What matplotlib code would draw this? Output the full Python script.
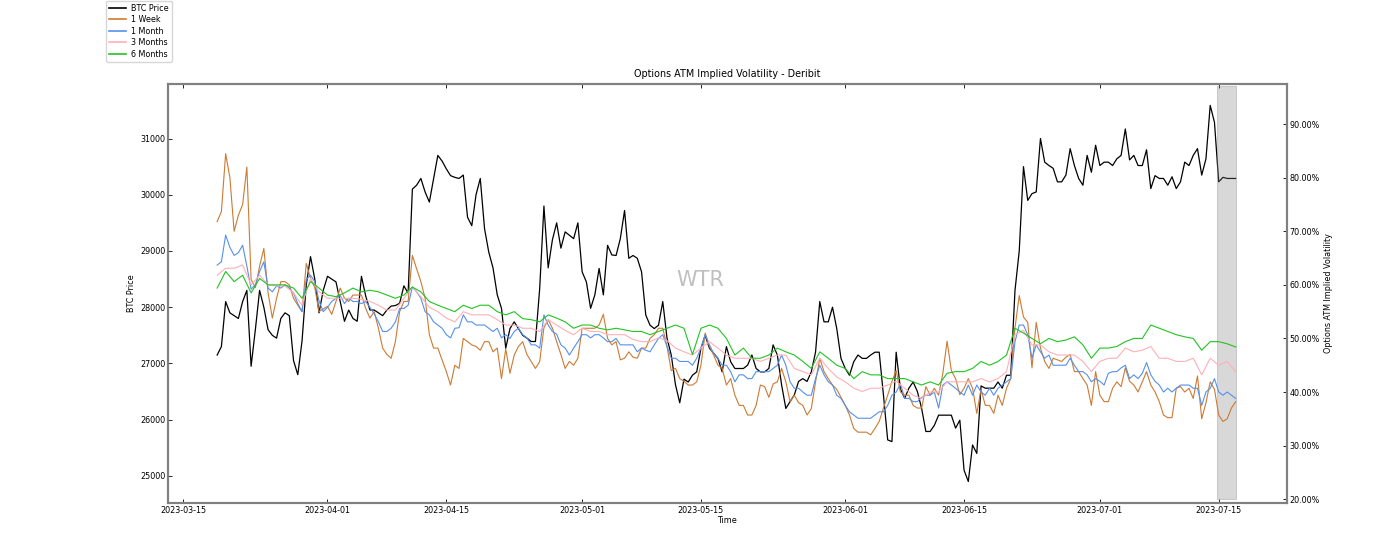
import numpy as np
import pandas as pd
import matplotlib
matplotlib.use('agg')
import matplotlib.pyplot as plt
import matplotlib.dates as mdates
import matplotlib.ticker as mtick

# half-day samples, 2023-03-19 00:00 -> 2023-07-17 00:00
btc_price = [
    27150, 27300, 28100, 27900, 27850, 27800, 28100, 28300, 26950, 27600,
    28300, 28000, 27600, 27500, 27450, 27800, 27900, 27850, 27050, 26800,
    27400, 28400, 28900, 28500, 27900, 28300, 28550, 28500, 28450, 28100,
    27750, 27950, 27800, 27750, 28550, 28200, 27950, 27950, 27900, 27850,
    27950, 28020, 28030, 28070, 28380, 28250, 30100, 30170, 30290, 30050,
    29870, 30290, 30700, 30600, 30460, 30340, 30310, 30290, 30350, 29600,
    29450, 30000, 30290, 29400, 28980, 28700, 28220, 27980, 27270, 27620,
    27740, 27620, 27500, 27450, 27390, 27390, 28330, 29800, 28700, 29200,
    29500, 29050, 29340, 29280, 29220, 29500, 28630, 28450, 27980, 28220,
    28690, 28220, 29100, 28930, 28920, 29220, 29720, 28870, 28920, 28870,
    28630, 27860, 27680, 27620, 27680, 28100, 27450, 27150, 26620, 26300,
    26720, 26670, 26790, 26850, 27270, 27500, 27270, 27180, 27090, 26850,
    27300, 27030, 26910, 26910, 26910, 26970, 27150, 26910, 26850, 26850,
    26910, 27330, 27150, 26620, 26200, 26320, 26440, 26680, 26730, 26680,
    26850, 27200, 28100, 27740, 27740, 28000, 27620, 27090, 26910, 26790,
    27030, 27150, 27090, 27090, 27150, 27200, 27200, 26440, 25640, 25610,
    27200, 26550, 26380, 26560, 26670, 26500, 26200, 25790, 25790, 25900,
    26080, 26080, 26080, 26080, 25850, 25990, 25100, 24900, 25550, 25400,
    26600, 26560, 26560, 26560, 26670, 26560, 26790, 26790, 28300, 29000,
    30500, 29900, 30020, 30050, 31000, 30580, 30520, 30470, 30230, 30230,
    30350, 30820, 30520, 30290, 30170, 30700, 30400, 30880, 30520, 30580,
    30580, 30520, 30640, 30700, 31170, 30620, 30700, 30520, 30520, 30800,
    30110, 30340, 30290, 30290, 30170, 30320, 30110, 30230, 30580, 30520,
    30700, 30820, 30350, 30640, 31590, 31290, 30230, 30310, 30290, 30290,
    30290]

iv_1w = [
    71.8, 73.7, 84.5, 80.0, 70.0, 73.0, 75.0, 82.0, 61.0, 59.5,
    63.5, 66.8, 58.5, 53.8, 57.5, 60.6, 60.6, 60.0, 57.5, 56.2,
    55.0, 64.0, 61.2, 59.5, 55.0, 55.5, 56.0, 54.5, 56.9, 59.4,
    57.5, 56.9, 58.1, 58.1, 58.1, 55.6, 53.8, 55.0, 51.9, 48.2,
    47.0, 46.3, 49.4, 55.0, 56.9, 56.9, 65.5, 63.0, 60.6, 57.5,
    50.7, 48.2, 48.2, 46.0, 43.8, 41.3, 45.0, 44.4, 50.0, 49.4,
    48.8, 48.5, 47.8, 49.4, 49.4, 47.5, 48.2, 42.5, 48.0, 43.5,
    46.9, 48.5, 49.4, 47.0, 45.7, 44.4, 45.7, 52.0, 53.5, 51.9,
    49.4, 47.0, 44.4, 45.7, 45.0, 46.3, 51.9, 51.9, 51.9, 51.9,
    52.5, 54.5, 50.0, 48.8, 49.4, 46.0, 46.3, 47.5, 46.5, 46.3,
    48.2, 48.2, 50.0, 50.7, 51.9, 51.9, 48.5, 44.0, 44.4, 42.5,
    42.0, 41.3, 41.3, 41.9, 45.0, 51.0, 48.5, 46.9, 45.0, 44.4,
    41.3, 42.5, 39.4, 37.5, 37.5, 35.7, 35.7, 37.5, 41.3, 41.0,
    39.0, 41.5, 41.9, 44.4, 41.9, 38.2, 39.4, 38.0, 37.5, 35.7,
    36.9, 41.9, 46.3, 43.8, 42.5, 41.3, 40.5, 39.0, 37.5, 35.7,
    33.2, 32.5, 32.5, 32.5, 32.0, 33.2, 34.5, 37.0, 39.4, 42.0,
    44.0, 40.0, 39.4, 39.4, 37.5, 37.0, 37.0, 41.0, 39.4, 40.7,
    39.4, 43.5, 49.5, 44.0, 42.5, 39.5, 40.7, 42.5, 40.7, 36.0,
    40.5, 37.5, 37.5, 36.0, 39.4, 37.5, 40.7, 42.5, 52.0, 58.0,
    54.0, 53.0, 44.5, 53.0, 48.2, 45.7, 44.4, 46.3, 46.0, 45.7,
    46.5, 47.0, 43.8, 43.8, 42.5, 41.3, 37.5, 43.8, 39.4, 38.2,
    38.2, 40.7, 41.9, 41.0, 44.5, 42.0, 41.3, 40.0, 41.9, 43.8,
    41.3, 40.0, 38.2, 35.7, 35.2, 35.2, 40.7, 41.0, 40.0, 40.7,
    38.8, 43.0, 35.0, 38.0, 41.9, 40.5, 35.7, 34.5, 35.0, 37.0,
    38.2]

iv_1m = [
    63.7, 64.3, 69.3, 67.0, 65.5, 66.0, 67.4, 63.5, 59.2, 60.0,
    62.5, 64.3, 59.4, 58.7, 59.8, 59.4, 60.0, 59.4, 58.5, 56.5,
    55.0, 61.0, 61.8, 60.6, 57.0, 55.0, 55.8, 56.9, 57.5, 58.0,
    56.5, 57.5, 56.9, 56.9, 56.5, 56.9, 55.8, 54.6, 53.1, 51.3,
    51.3, 51.9, 53.1, 55.6, 55.6, 56.2, 59.6, 58.7, 57.5, 55.0,
    54.4, 53.1, 52.5, 51.9, 50.7, 50.1, 51.9, 52.0, 54.4, 53.1,
    53.1, 52.5, 52.5, 52.5, 51.9, 51.3, 51.9, 50.1, 50.7, 50.0,
    51.3, 51.9, 50.7, 50.1, 48.8, 48.8, 48.2, 54.4, 52.5, 51.3,
    50.8, 48.8, 48.2, 46.9, 48.2, 49.4, 50.7, 50.7, 50.1, 50.7,
    50.7, 50.1, 49.4, 49.4, 50.0, 48.8, 48.8, 48.8, 48.8, 47.5,
    48.2, 47.8, 47.5, 48.8, 50.0, 50.7, 48.5, 46.3, 46.3, 45.7,
    45.7, 45.7, 45.0, 46.3, 48.2, 50.7, 48.8, 47.2, 46.3, 45.0,
    45.0, 43.8, 41.9, 43.2, 43.2, 42.5, 42.5, 43.8, 43.8, 43.8,
    43.8, 44.4, 45.0, 46.9, 45.0, 41.9, 40.7, 40.7, 40.0, 39.4,
    39.4, 42.5, 45.0, 43.2, 41.9, 41.3, 39.4, 38.8, 37.5, 36.3,
    35.7, 35.1, 35.1, 35.1, 35.1, 35.7, 36.3, 36.3, 37.5, 39.4,
    40.0, 41.5, 38.8, 38.8, 38.2, 38.2, 39.0, 39.4, 39.4, 40.0,
    37.0, 41.3, 41.9, 41.3, 40.7, 40.0, 39.4, 41.3, 39.4, 41.3,
    40.0, 39.4, 40.7, 39.4, 40.7, 41.3, 41.9, 42.5, 49.4, 52.5,
    52.5, 50.7, 46.3, 48.8, 47.5, 46.3, 46.9, 45.0, 45.0, 45.0,
    45.0, 46.3, 45.0, 43.8, 43.8, 43.2, 41.9, 42.5, 42.0, 41.3,
    43.5, 43.8, 43.8, 44.5, 45.0, 42.5, 43.2, 42.5, 43.5, 45.5,
    43.2, 42.0, 41.3, 40.0, 40.7, 40.0, 40.7, 41.3, 41.3, 41.3,
    40.7, 40.7, 37.5, 40.0, 40.7, 42.5, 40.0, 39.4, 40.0, 39.4,
    38.8]

# daily samples, 2023-03-19 -> 2023-07-17
iv_3m = [
    61.8, 63.1, 63.1, 63.7, 60.0, 61.8, 60.0, 59.8, 59.8, 58.5,
    56.2, 61.2, 58.7, 57.5, 57.5, 57.5, 57.5, 57.3, 56.9, 56.2,
    55.3, 55.3, 57.5, 59.6, 57.8, 55.8, 55.0, 53.8, 53.1, 55.0,
    54.4, 54.4, 54.4, 53.5, 52.5, 52.5, 51.9, 51.9, 51.3, 53.5,
    52.5, 51.5, 50.7, 51.9, 51.3, 51.3, 50.7, 50.7, 50.7, 49.8,
    49.4, 49.4, 50.1, 49.6, 48.2, 47.5, 46.9, 48.2, 49.4, 48.2,
    46.9, 46.3, 46.3, 46.3, 45.7, 46.3, 46.9, 46.9, 44.4, 43.8,
    43.2, 46.3, 44.4, 42.8, 41.9, 40.7, 40.1, 40.7, 40.7, 41.3,
    42.0, 40.7, 39.4, 38.8, 40.0, 40.0, 41.9, 41.9, 41.9, 41.9,
    42.5, 41.9, 42.5, 43.8, 50.7, 51.5, 48.8, 48.8, 47.5, 46.9,
    46.9, 46.9, 45.7, 43.8, 45.7, 46.3, 46.3, 48.2, 47.5, 47.8,
    48.5, 46.3, 46.3, 45.7, 45.7, 46.3, 43.2, 46.3, 45.0, 45.7,
    43.8]

iv_6m = [
    59.4, 62.5, 60.6, 61.8, 58.5, 61.2, 60.0, 60.0, 60.0, 59.4,
    57.5, 60.6, 59.4, 58.1, 57.8, 58.5, 59.4, 58.7, 59.0, 58.7,
    58.1, 57.5, 58.1, 59.6, 58.7, 56.9, 56.2, 55.6, 55.0, 56.2,
    55.6, 56.2, 56.2, 55.0, 54.4, 55.0, 53.7, 53.5, 53.1, 54.4,
    53.8, 53.1, 51.9, 52.5, 52.5, 51.9, 51.6, 51.9, 51.6, 51.3,
    51.3, 50.7, 51.3, 51.9, 52.5, 51.9, 47.0, 51.9, 52.5, 51.9,
    50.0, 46.9, 48.2, 46.3, 46.3, 46.9, 48.2, 47.5, 46.9, 45.7,
    44.4, 47.5, 46.3, 45.0, 44.4, 42.5, 43.8, 43.2, 43.2, 42.5,
    42.5, 42.5, 41.9, 41.3, 41.9, 41.3, 43.5, 43.8, 43.8, 44.4,
    45.7, 45.0, 45.7, 46.9, 51.9, 51.0, 50.0, 49.0, 50.0, 49.4,
    49.7, 50.3, 48.8, 46.3, 48.2, 48.2, 48.5, 49.4, 50.0, 50.0,
    52.5, 51.9, 51.3, 50.7, 50.3, 50.0, 47.8, 49.4, 49.4, 49.0,
    48.4]

t_half = pd.date_range('2023-03-19', '2023-07-17', freq='12h')
t_day = pd.date_range('2023-03-19', '2023-07-17', freq='D')
shade_from = pd.Timestamp('2023-07-14 18:00')
shade_to = pd.Timestamp('2023-07-17 02:00')

plt.rcParams['font.size'] = 5.8

fig = plt.figure(figsize=(14, 5.6), dpi=100)
ax = fig.add_axes([0.12, 0.102, 0.799, 0.748])
ax2 = ax.twinx()

l0, = ax.plot(t_half, btc_price, color='black', lw=0.9, label='BTC Price')
l1, = ax2.plot(t_half, iv_1w, color='#cd7a32', lw=0.8, label='1 Week')
l2, = ax2.plot(t_half, iv_1m, color='#5590ee', lw=0.8, label='1 Month')
l3, = ax2.plot(t_day, iv_3m, color='#ffb0b8', lw=0.8, label='3 Months')
l4, = ax2.plot(t_day, iv_6m, color='#22c322', lw=0.8, label='6 Months')

ax2.fill_between([shade_from, shade_to], 20, 97.2, color='gray', alpha=0.3, lw=0.8)

ax.set_xlim(pd.Timestamp('2023-03-13 05:00'), pd.Timestamp('2023-07-23 00:00'))
ax.set_ylim(24520, 31970)
ax2.set_ylim(19.3, 97.5)

ax.xaxis.set_major_locator(mdates.DayLocator(bymonthday=[1, 15]))
ax.xaxis.set_major_formatter(mdates.DateFormatter('%Y-%m-%d'))
ax.yaxis.set_major_locator(mtick.MultipleLocator(1000))
ax2.yaxis.set_major_locator(mtick.MultipleLocator(10))
ax2.yaxis.set_major_formatter(mtick.FuncFormatter(lambda v, p: '%.2f%%' % v))

for a in (ax, ax2):
    for s in a.spines.values():
        s.set_color('gray')
        s.set_linewidth(1.5)
    a.tick_params(direction='in', length=3, width=0.6, pad=2)
ax.tick_params(axis='x', top=True)

ax.set_xlabel('Time', labelpad=1)
ax.set_ylabel('BTC Price', labelpad=3)
ax2.set_ylabel('Options ATM Implied Volatility', labelpad=3)
ax.set_title('Options ATM Implied Volatility - Deribit', pad=5)

fig.text(0.5, 0.5, 'WTR', fontsize=15, color='gray', alpha=0.5,
         ha='center', va='center')

leg = fig.legend(handles=[l0, l1, l2, l3, l4], loc='upper left',
                 bbox_to_anchor=(0.073, 1.006), frameon=True,
                 labelspacing=0.3, borderpad=0.4, handletextpad=0.7)
for h in leg.get_lines():
    h.set_linewidth(1.2)

fig.savefig('out.png', dpi=100)
